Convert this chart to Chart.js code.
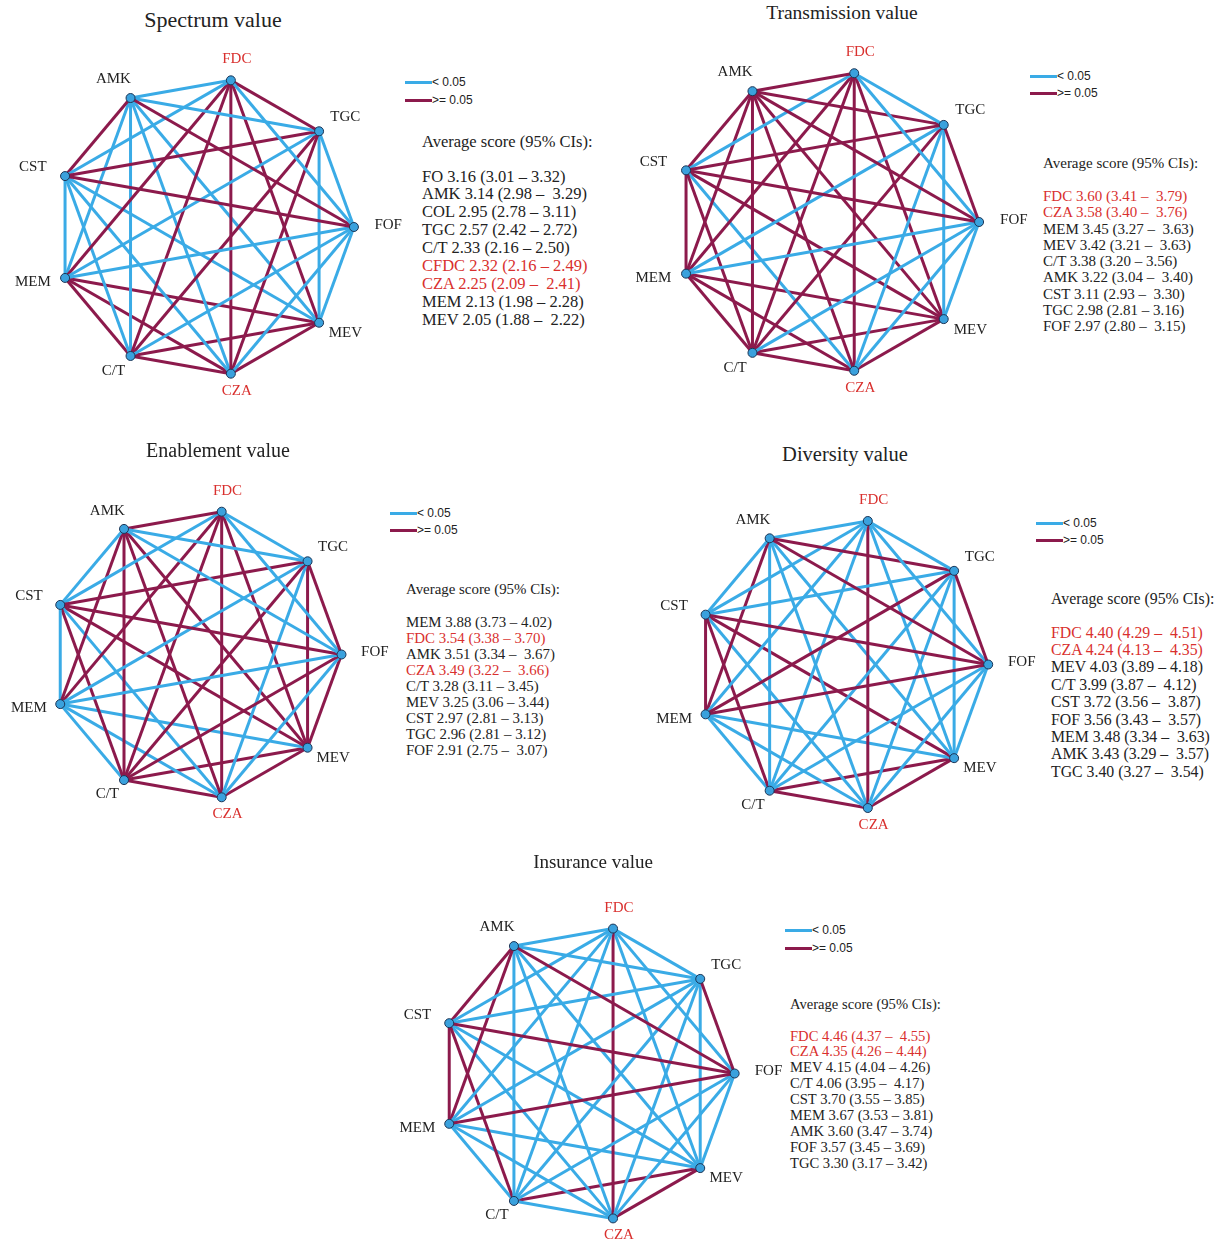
<!DOCTYPE html>
<html>
<head>
<meta charset="utf-8">
<script src="https://cdn.jsdelivr.net/npm/chart.js@4"></script>
<style>
body { margin: 0; background: #fff; width: 1221px; height: 1247px; position: relative; overflow: hidden;
       font-family: "Liberation Serif", "Times New Roman", serif; color: #222; }
.title { position: absolute; white-space: nowrap; transform: translateX(-50%); }
canvas { position: absolute; }
.txt { position: absolute; white-space: pre; }
.leg { position: absolute; font-family: "Liberation Sans", Arial, sans-serif; font-size: 12px; white-space: nowrap; }
.sw { position: absolute; height: 3px; }
.red { color: #d9302e; }
</style>
</head>
<body>
<script>
// Nodes, counter-clockwise from the right
const nodes = ['FOF', 'TGC', 'FDC', 'AMK', 'CST', 'MEM', 'C/T', 'CZA', 'MEV'];
const redNames = ['FDC', 'CZA', 'CFDC'];

// Pairs with p < 0.05 (blue); all other pairs are >= 0.05 (maroon)
const spectrumSig = ['FDC-AMK', 'FDC-FOF', 'FDC-CST', 'TGC-AMK', 'TGC-FOF', 'TGC-MEV', 'TGC-MEM',
  'AMK-MEV', 'AMK-CZA', 'AMK-C/T', 'AMK-MEM', 'FOF-MEV', 'FOF-CZA', 'FOF-C/T', 'FOF-MEM',
  'MEV-CST', 'CZA-CST', 'C/T-CST', 'MEM-CST'];
const transmissionSig = ['FDC-TGC', 'FDC-FOF', 'FDC-CST', 'TGC-MEV', 'TGC-CZA', 'TGC-MEM',
  'FOF-MEV', 'FOF-CZA', 'FOF-C/T', 'FOF-MEM', 'CST-CZA'];
const enablementSig = ['FDC-TGC', 'FDC-FOF', 'FDC-CST', 'AMK-TGC', 'AMK-FOF', 'AMK-CST', 'TGC-CZA',
  'TGC-MEM', 'FOF-MEM', 'FOF-CZA', 'CST-CZA', 'CST-MEM', 'MEM-MEV', 'MEM-CZA', 'MEM-C/T'];
const diversitySig = ['FOF-FDC', 'FOF-C/T', 'FOF-CZA', 'FOF-MEV', 'TGC-FDC', 'TGC-CST', 'TGC-C/T',
  'TGC-CZA', 'TGC-MEV', 'FDC-AMK', 'FDC-CST', 'FDC-MEM', 'FDC-C/T', 'FDC-MEV', 'AMK-CST',
  'AMK-C/T', 'AMK-CZA', 'AMK-MEV', 'CST-CZA', 'MEM-C/T', 'MEM-CZA', 'MEM-MEV'];
const insuranceSig = ['FOF-FDC', 'FOF-C/T', 'FOF-CZA', 'FOF-MEV', 'TGC-FDC', 'TGC-AMK', 'TGC-CST',
  'TGC-MEM', 'TGC-C/T', 'TGC-CZA', 'TGC-MEV', 'FDC-AMK', 'FDC-CST', 'FDC-MEM', 'FDC-C/T',
  'FDC-MEV', 'AMK-C/T', 'AMK-CZA', 'AMK-MEV', 'CST-CZA', 'CST-MEV', 'MEM-C/T', 'MEM-CZA',
  'MEM-MEV', 'C/T-CZA'];

// Average score (95% CIs)
const spectrumScores = ['FO 3.16 (3.01 – 3.32)', 'AMK 3.14 (2.98 –  3.29)', 'COL 2.95 (2.78 – 3.11)',
  'TGC 2.57 (2.42 – 2.72)', 'C/T 2.33 (2.16 – 2.50)', 'CFDC 2.32 (2.16 – 2.49)',
  'CZA 2.25 (2.09 –  2.41)', 'MEM 2.13 (1.98 – 2.28)', 'MEV 2.05 (1.88 –  2.22)'];
const transmissionScores = ['FDC 3.60 (3.41 –  3.79)', 'CZA 3.58 (3.40 –  3.76)', 'MEM 3.45 (3.27 –  3.63)',
  'MEV 3.42 (3.21 –  3.63)', 'C/T 3.38 (3.20 – 3.56)', 'AMK 3.22 (3.04 –  3.40)',
  'CST 3.11 (2.93 –  3.30)', 'TGC 2.98 (2.81 – 3.16)', 'FOF 2.97 (2.80 –  3.15)'];
const enablementScores = ['MEM 3.88 (3.73 – 4.02)', 'FDC 3.54 (3.38 – 3.70)', 'AMK 3.51 (3.34 –  3.67)',
  'CZA 3.49 (3.22 –  3.66)', 'C/T 3.28 (3.11 – 3.45)', 'MEV 3.25 (3.06 – 3.44)',
  'CST 2.97 (2.81 – 3.13)', 'TGC 2.96 (2.81 – 3.12)', 'FOF 2.91 (2.75 –  3.07)'];
const diversityScores = ['FDC 4.40 (4.29 –  4.51)', 'CZA 4.24 (4.13 –  4.35)', 'MEV 4.03 (3.89 – 4.18)',
  'C/T 3.99 (3.87 –  4.12)', 'CST 3.72 (3.56 –  3.87)', 'FOF 3.56 (3.43 –  3.57)',
  'MEM 3.48 (3.34 –  3.63)', 'AMK 3.43 (3.29 –  3.57)', 'TGC 3.40 (3.27 –  3.54)'];
const insuranceScores = ['FDC 4.46 (4.37 –  4.55)', 'CZA 4.35 (4.26 – 4.44)', 'MEV 4.15 (4.04 – 4.26)',
  'C/T 4.06 (3.95 –  4.17)', 'CST 3.70 (3.55 – 3.85)', 'MEM 3.67 (3.53 – 3.81)',
  'AMK 3.60 (3.47 – 3.74)', 'FOF 3.57 (3.45 – 3.69)', 'TGC 3.30 (3.17 – 3.42)'];

const BLUE = '#3aabe6';
const MAROON = '#8c1a4c';

// Panel placement on the page
const panels = [
  { title: 'Spectrum value', sig: spectrumSig, scores: spectrumScores,
    cx: 205, cy: 227, r: 153, tx: 213, ty: 20, tsize: 22,
    lx: 405, ly: 82, lgap: 18, sx: 422, sy: 141, sfirst: 176, sstep: 17.9, sfont: 16.5 },
  { title: 'Transmission value', sig: transmissionSig, scores: transmissionScores,
    cx: 828, cy: 222, r: 155, tx: 842, ty: 14, tsize: 19.5,
    lx: 1030, ly: 76, lgap: 17, sx: 1043, sy: 163, sfirst: 196, sstep: 16.25, sfont: 15 },
  { title: 'Enablement value', sig: enablementSig, scores: enablementScores,
    cx: 196, cy: 654, r: 149, tx: 218, ty: 451, tsize: 20,
    lx: 390, ly: 513, lgap: 17, sx: 406, sy: 589, sfirst: 622, sstep: 16.1, sfont: 14.9 },
  { title: 'Diversity value', sig: diversitySig, scores: diversityScores,
    cx: 842, cy: 664, r: 149.5, tx: 845, ty: 455, tsize: 20.5,
    lx: 1036, ly: 523, lgap: 17, sx: 1051, sy: 598, sfirst: 632, sstep: 17.4, sfont: 15.8 },
  { title: 'Insurance value', sig: insuranceSig, scores: insuranceScores,
    cx: 587, cy: 1073, r: 151, tx: 593, ty: 862, tsize: 19,
    lx: 785, ly: 930, lgap: 18, sx: 790, sy: 1004, sfirst: 1036, sstep: 15.9, sfont: 14.6 }
];

function addDiv(cls, text, left, top, style) {
  const d = document.createElement('div');
  d.className = cls;
  d.textContent = text;
  d.style.left = left + 'px';
  d.style.top = top + 'px';
  Object.assign(d.style, style || {});
  document.body.appendChild(d);
  return d;
}

function isSig(list, a, b) {
  return list.includes(a + '-' + b) || list.includes(b + '-' + a);
}

const nodeLabels = {
  id: 'nodeLabels',
  afterDatasetsDraw(chart) {
    const ctx = chart.ctx;
    const xs = chart.scales.x, ys = chart.scales.y;
    ctx.save();
    ctx.font = '15px "Liberation Serif", "Times New Roman", serif';
    ctx.textAlign = 'center';
    ctx.textBaseline = 'middle';
    nodes.forEach((n, i) => {
      const a = i * 2 * Math.PI / nodes.length;
      ctx.fillStyle = redNames.includes(n) ? '#d9302e' : '#222';
      ctx.fillText(n, xs.getPixelForValue(1.23 * Math.cos(a)), ys.getPixelForValue(1.13 * Math.sin(a)) - 2);
    });
    ctx.restore();
  }
};

panels.forEach(p => {
  // title
  addDiv('title', p.title, p.tx, p.ty - p.tsize * 0.6, { fontSize: p.tsize + 'px' });

  // legend
  [['< 0.05', BLUE], ['>= 0.05', MAROON]].forEach((item, k) => {
    const y = p.ly + k * p.lgap;
    addDiv('sw', '', p.lx, y - 1.5, { width: '27px', background: item[1] });
    addDiv('leg', item[0], p.lx + 27, y - 8, { lineHeight: '16px' });
  });

  // scores
  const lh = Math.round(p.sfont * 1.3);
  addDiv('txt', 'Average score (95% CIs):', p.sx, p.sy - lh / 2, { fontSize: p.sfont + 'px', lineHeight: lh + 'px' });
  p.scores.forEach((s, k) => {
    const d = addDiv('txt', s, p.sx, p.sfirst + k * p.sstep - lh / 2, { fontSize: p.sfont + 'px', lineHeight: lh + 'px' });
    if (redNames.includes(s.split(' ')[0])) d.classList.add('red');
  });

  // network
  const size = Math.round(2.8 * p.r);
  const canvas = document.createElement('canvas');
  canvas.width = size;
  canvas.height = size;
  canvas.style.left = (p.cx - size / 2) + 'px';
  canvas.style.top = (p.cy - size / 2) + 'px';
  document.body.appendChild(canvas);

  const pts = nodes.map((n, i) => {
    const a = i * 2 * Math.PI / nodes.length;
    return { x: Math.cos(a), y: Math.sin(a) };
  });

  const datasets = [{
    data: pts, showLine: false, order: -1,
    pointRadius: 4.5, backgroundColor: '#3aa1dd', borderColor: '#1b3556', borderWidth: 1
  }];
  for (let i = 0; i < nodes.length; i++) {
    for (let j = i + 1; j < nodes.length; j++) {
      datasets.push({
        data: [pts[i], pts[j]], showLine: true, fill: false,
        borderColor: isSig(p.sig, nodes[i], nodes[j]) ? BLUE : MAROON,
        borderWidth: 3, pointRadius: 0
      });
    }
  }

  new Chart(canvas, {
    type: 'scatter',
    data: { datasets: datasets },
    options: {
      responsive: false,
      animation: false,
      events: [],
      layout: { padding: 0 },
      plugins: { legend: { display: false }, tooltip: { enabled: false } },
      scales: {
        x: { type: 'linear', min: -1.4, max: 1.4, display: false },
        y: { type: 'linear', min: -1.4, max: 1.4, display: false }
      }
    },
    plugins: [nodeLabels]
  });
});
</script>
</body>
</html>
